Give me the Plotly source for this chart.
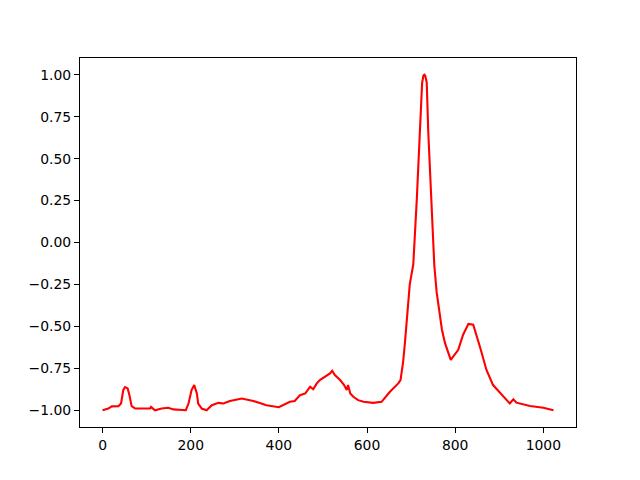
import plotly.graph_objects as go

# --- data ---
x_vals = [0, 13, 21, 36, 42, 47, 51, 57, 61, 66,
          74, 89, 108, 110, 119, 134, 149, 161, 176, 189,
          195, 202, 208, 214, 217, 225, 236, 248, 263, 274,
          289, 316, 342, 372, 400, 425, 436, 448, 460, 471,
          478, 486, 493, 505, 516, 521, 527, 539, 548, 554,
          557, 562, 569, 580, 592, 614, 633, 652, 671, 676,
          682, 686, 691, 697, 701, 705, 713, 720, 725, 728,
          730, 732, 735.5, 739, 745, 752.7, 758, 765.6, 770, 777,
          790, 807, 818, 830, 841, 856, 871, 886, 909, 924,
          932, 939, 970, 1000, 1023]
y_vals = [-1.0, -0.99, -0.977, -0.976, -0.96, -0.88, -0.862, -0.87, -0.91, -0.976,
          -0.99, -0.99, -0.99, -0.98, -1.0, -0.99, -0.985, -0.995, -1.0, -1.0,
          -0.96, -0.88, -0.85, -0.90, -0.96, -0.99, -1.0, -0.97, -0.956, -0.96,
          -0.945, -0.93, -0.945, -0.97, -0.982, -0.95, -0.945, -0.91, -0.90, -0.86,
          -0.875, -0.84, -0.82, -0.80, -0.78, -0.765, -0.79, -0.82, -0.85, -0.88,
          -0.85, -0.90, -0.92, -0.94, -0.95, -0.956, -0.95, -0.89, -0.84, -0.82,
          -0.71, -0.60, -0.45, -0.25, -0.19, -0.13, 0.26, 0.657, 0.95, 0.995,
          1.0, 0.995, 0.954, 0.657, 0.26, -0.137, -0.296, -0.454, -0.52, -0.60,
          -0.70, -0.64, -0.55, -0.485, -0.49, -0.62, -0.76, -0.85, -0.92, -0.96,
          -0.935, -0.955, -0.975, -0.985, -1.0]
x_ticks = [0, 200, 400, 600, 800, 1000]
y_ticks = [-1.0, -0.75, -0.5, -0.25, 0.0, 0.25, 0.5, 0.75, 1.0]

fig = go.Figure(go.Scatter(x=x_vals, y=y_vals, mode="lines",
                           line=dict(color="red", width=2.1)))

axis_style = dict(showline=True, mirror=True, linecolor="black", linewidth=1.1,
                  ticks="outside", ticklen=5, tickwidth=1.1, tickcolor="black",
                  showgrid=False, zeroline=False,
                  tickfont=dict(family="DejaVu Sans", size=13.9, color="black"))

# page body adds an 8px offset, so the figure is shrunk to compensate
fig.update_layout(
    width=632, height=472,
    margin=dict(l=72, r=64, t=50, b=53),
    paper_bgcolor="white", plot_bgcolor="white",
    showlegend=False,
    xaxis=dict(range=[-51.15, 1074.15], tickvals=x_ticks, **axis_style),
    yaxis=dict(range=[-1.1, 1.1], tickvals=y_ticks, tickformat=".2f", **axis_style),
)

fig.write_html("out.html")
